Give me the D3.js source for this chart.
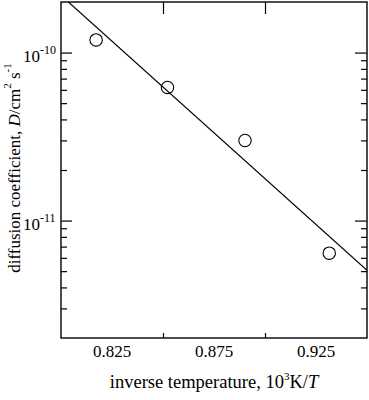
<!DOCTYPE html>
<html lang="en">
<head>
<meta charset="utf-8">
<style>
  body { margin: 0; background: #fff; }
  svg text { font-family: "Liberation Serif", "Times New Roman", serif; fill: #000; }
</style>
</head>
<body>
<svg id="chart" width="369" height="400"></svg>
<script src="https://cdn.jsdelivr.net/npm/d3@7"></script>
<script>
// measured points: inverse temperature (10^3 K/T) vs diffusion coefficient (cm^2/s)
var invTemp = [0.8172, 0.8522, 0.8902, 0.9315];
var diffCoef = [1.19e-10, 6.2e-11, 3.0e-11, 6.4e-12];
// fitted line end points
var fitX = [0.80, 0.95];
var fitY = [2.19e-10, 5.06e-12];

var xTicks = [0.85, 0.90];
var xLabels = [0.825, 0.875, 0.925];
var yMajor = [1e-10, 1e-11];
var yMajorExp = ["-10", "-11"];
var yMinor = [3e-12, 4e-12, 5e-12, 6e-12, 7e-12, 8e-12, 9e-12,
              2e-11, 3e-11, 4e-11, 5e-11, 6e-11, 7e-11, 8e-11, 9e-11];

var mLeft = 61, mRight = 367, mTop = 2, mBottom = 338;

var svg = d3.select("#chart");

var x = d3.scaleLinear().domain([0.80, 0.95]).range([mLeft, mRight]);
var y = d3.scaleLog().domain([2e-12, 2e-10]).range([mBottom, mTop]);

svg.append("clipPath").attr("id", "frame")
  .append("rect")
  .attr("x", mLeft).attr("y", mTop)
  .attr("width", mRight - mLeft).attr("height", mBottom - mTop);

function styleAxis(g) {
  g.select(".domain").remove();
  g.selectAll(".tick line").attr("stroke", "#000").attr("stroke-width", 1.2);
}

// ticks (all inward)
svg.append("g").attr("transform", "translate(0," + mBottom + ")")
  .call(d3.axisBottom(x).tickValues(xTicks).tickSize(-5).tickFormat(""))
  .call(styleAxis);
svg.append("g").attr("transform", "translate(0," + mTop + ")")
  .call(d3.axisTop(x).tickValues(xTicks).tickSize(-12).tickFormat(""))
  .call(styleAxis);
svg.append("g").attr("transform", "translate(" + mLeft + ",0)")
  .call(d3.axisLeft(y).tickValues(yMajor).tickSize(-11).tickFormat(""))
  .call(styleAxis);
svg.append("g").attr("transform", "translate(" + mLeft + ",0)")
  .call(d3.axisLeft(y).tickValues(yMinor).tickSize(-6).tickFormat(""))
  .call(styleAxis);
svg.append("g").attr("transform", "translate(" + mRight + ",0)")
  .call(d3.axisRight(y).tickValues(yMajor).tickSize(-12).tickFormat(""))
  .call(styleAxis);
svg.append("g").attr("transform", "translate(" + mRight + ",0)")
  .call(d3.axisRight(y).tickValues(yMinor).tickSize(-6).tickFormat(""))
  .call(styleAxis);

// frame
svg.append("rect")
  .attr("x", mLeft).attr("y", mTop)
  .attr("width", mRight - mLeft).attr("height", mBottom - mTop)
  .attr("fill", "none").attr("stroke", "#000").attr("stroke-width", 1.4);

// x tick labels
svg.selectAll(".xlab").data(xLabels).enter().append("text")
  .attr("class", "xlab")
  .attr("x", function(d) { return x(d); })
  .attr("y", 357)
  .attr("text-anchor", "middle")
  .attr("font-size", 17)
  .text(function(d) { return d3.format(".3f")(d); });

// y tick labels 10^n
var ylab = svg.selectAll(".ylab").data(yMajor).enter().append("text")
  .attr("class", "ylab")
  .attr("x", 23)
  .attr("y", function(d) { return y(d) + 9; })
  .attr("font-size", 17);
ylab.append("tspan").text("10");
ylab.append("tspan").attr("dy", -8).attr("font-size", 12)
  .text(function(d, i) { return yMajorExp[i]; });

// x axis title
var xt = svg.append("text")
  .attr("x", 214).attr("y", 388)
  .attr("text-anchor", "middle")
  .attr("font-size", 18.5);
xt.append("tspan").text("inverse temperature, 10");
xt.append("tspan").attr("dy", -8).attr("font-size", 11).text("3");
xt.append("tspan").attr("dy", 8).text("K/");
xt.append("tspan").attr("font-style", "italic").text("T");

// y axis title
var yt = svg.append("text")
  .attr("transform", "translate(20,168) rotate(-90)")
  .attr("text-anchor", "middle")
  .attr("font-size", 17);
yt.append("tspan").text("diffusion coefficient, ");
yt.append("tspan").attr("font-style", "italic").text("D");
yt.append("tspan").text("/cm");
yt.append("tspan").attr("dy", -9).attr("font-size", 11).text("2");
yt.append("tspan").attr("dy", 9).text(" s");
yt.append("tspan").attr("dy", -9).attr("font-size", 11).text("-1");

// fitted line
var line = d3.line()
  .x(function(d) { return x(d[0]); })
  .y(function(d) { return y(d[1]); });

svg.append("path")
  .attr("clip-path", "url(#frame)")
  .attr("d", line(d3.zip(fitX, fitY)))
  .attr("fill", "none")
  .attr("stroke", "#000")
  .attr("stroke-width", 1.2);

// data points
svg.selectAll(".pt").data(d3.zip(invTemp, diffCoef)).enter().append("circle")
  .attr("class", "pt")
  .attr("cx", function(d) { return x(d[0]); })
  .attr("cy", function(d) { return y(d[1]); })
  .attr("r", 6.2)
  .attr("fill", "none")
  .attr("stroke", "#000")
  .attr("stroke-width", 1.1);
</script>
</body>
</html>
